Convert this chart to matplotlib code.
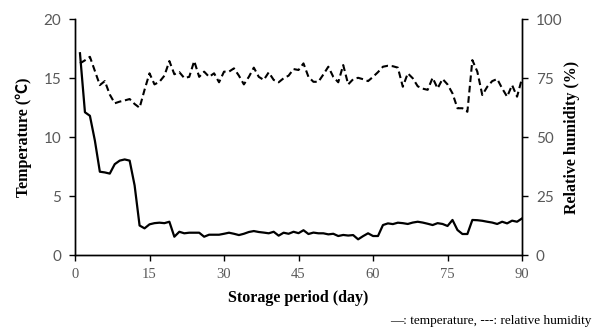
import numpy as np
import matplotlib.pyplot as plt

# Daily storage log: days 1-90
days = np.arange(1, 91)

temperature = [
    17.1, 12.1, 11.8, 9.7, 7.06, 7.0, 6.9, 7.7, 8.0, 8.1,
    8.0, 5.9, 2.5, 2.26, 2.6, 2.7, 2.74, 2.7, 2.82, 1.55,
    1.97, 1.84, 1.89, 1.89, 1.89, 1.55, 1.72, 1.72, 1.72, 1.8,
    1.89, 1.8, 1.69, 1.8, 1.95, 2.03, 1.95, 1.9, 1.84, 1.97,
    1.64, 1.89, 1.8, 1.97, 1.85, 2.1, 1.78, 1.9, 1.84, 1.84,
    1.75, 1.8, 1.61, 1.7, 1.65, 1.69, 1.33, 1.6, 1.84, 1.61,
    1.61, 2.54, 2.68, 2.62, 2.74, 2.7, 2.63, 2.75, 2.82, 2.75,
    2.65, 2.54, 2.7, 2.63, 2.46, 2.97, 2.12, 1.78, 1.78, 2.97,
    2.95, 2.9, 2.82, 2.75, 2.63, 2.82, 2.68, 2.91, 2.82, 3.1,
]

humidity = [
    81.2, 82.5, 84.0, 78.0, 72.0, 73.7, 68.0, 64.3, 65.0, 65.5,
    66.1, 64.0, 62.4, 70.0, 77.0, 72.3, 73.4, 76.0, 82.2, 76.6,
    77.5, 75.0, 75.5, 82.2, 75.5, 77.7, 75.5, 77.0, 73.2, 77.7,
    77.7, 79.1, 76.0, 72.3, 75.5, 79.4, 75.5, 74.2, 77.4, 74.2,
    73.2, 74.9, 76.0, 78.8, 78.4, 81.2, 75.5, 73.4, 73.4, 76.5,
    79.8, 75.5, 73.2, 80.5, 72.3, 74.5, 75.1, 74.5, 73.7, 75.5,
    77.5, 79.8, 80.2, 80.0, 79.4, 71.3, 77.0, 74.9, 71.5, 70.5,
    70.0, 75.1, 70.6, 74.6, 72.3, 68.5, 62.2, 62.2, 60.7, 82.6,
    77.7, 67.8, 71.3, 73.7, 74.6, 70.6, 67.1, 72.0, 67.1, 74.9,
]

x_ticks = [0, 15, 30, 45, 60, 75, 90]
temp_ticks = [0, 5, 10, 15, 20]
rh_ticks = [0, 25, 50, 75, 100]

serif = ['Liberation Serif', 'Noto Sans CJK SC', 'DejaVu Sans']
sans = ['Lato', 'DejaVu Sans']
tick_grey = '#595959'

fig = plt.figure(figsize=(5.92, 3.34), dpi=100)
ax = fig.add_axes([0.1267, 0.2365, 0.7551, 0.7065])
ax2 = ax.twinx()

ax.plot(days, temperature, color='black', lw=1.6)
ax2.plot(days, humidity, color='black', lw=1.5, linestyle=(0, (3.2, 1.8)))

ax.set_xlim(0, 90)
ax.set_ylim(0, 20)
ax2.set_ylim(0, 100)

ax.set_xticks(x_ticks)
ax.set_yticks(temp_ticks)
ax2.set_yticks(rh_ticks)

for a in (ax, ax2):
    a.spines['top'].set_visible(False)
    for s in ('left', 'right', 'bottom'):
        a.spines[s].set_linewidth(1.0)
        a.spines[s].set_color('black')
    a.tick_params(direction='out', length=4, width=1.0, color='black')

ax.tick_params(axis='y', labelsize=11, labelcolor=tick_grey, pad=6)
ax2.tick_params(axis='y', labelsize=11, labelcolor=tick_grey, pad=6)
ax.tick_params(axis='x', labelsize=10.5, labelcolor=tick_grey, pad=5)
for lbl in ax.get_yticklabels() + ax2.get_yticklabels():
    lbl.set_family(sans)
for lbl in ax.get_xticklabels():
    lbl.set_family(serif)

ax.set_xlabel('Storage period (day)', family=serif, fontsize=11.5,
              fontweight='bold', labelpad=7)
ax.set_ylabel('Temperature (℃)', family=serif, fontsize=11.5,
              fontweight='bold', labelpad=8)
ax2.set_ylabel('Relative humidity (%)', family=serif, fontsize=11.5,
               fontweight='bold', labelpad=1)

fig.text(0.829, 0.04, '—: temperature, ---: relative humidity',
         family=serif, fontsize=9.5, ha='center', va='center')

fig.savefig('out.png', dpi=100)
